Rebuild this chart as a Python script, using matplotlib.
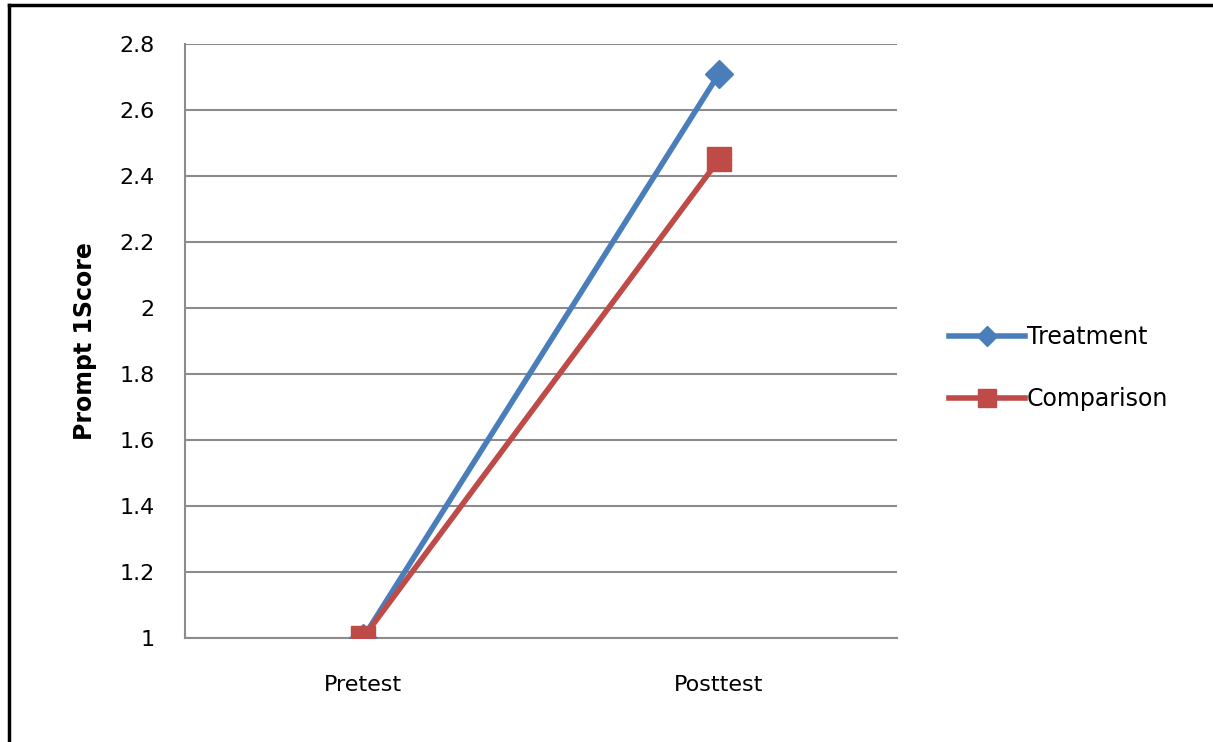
import matplotlib
matplotlib.use('Agg')
from matplotlib import pyplot as plt
from matplotlib.lines import Line2D

# data
categories = ["Pretest", "Posttest"]
treatment = [1.0, 2.71]
comparison = [1.0, 2.45]
yticks = [1, 1.2, 1.4, 1.6, 1.8, 2, 2.2, 2.4, 2.6, 2.8]
ytick_labels = ["1", "1.2", "1.4", "1.6", "1.8", "2", "2.2", "2.4", "2.6", "2.8"]

fig = plt.figure(figsize=(12.13, 7.42), dpi=100)
ax = fig.add_axes([0.1525, 0.1402, 0.587, 0.8005])

xpos = [0.5, 1.5]
ax.plot(xpos, treatment, "-", color="#4a7ebb", linewidth=4, marker="D",
        markersize=14, label="Treatment", zorder=3)
ax.plot(xpos, comparison, "-", color="#be4b48", linewidth=4, marker="s",
        markersize=17, label="Comparison", zorder=4)

ax.set_xlim(0, 2)
ax.set_ylim(1, 2.8)
ax.set_yticks(yticks)
ax.set_yticklabels(ytick_labels)
ax.set_xticks(xpos)
ax.set_xticklabels(categories)
ax.tick_params(length=0, labelsize=16)
ax.tick_params(axis='y', pad=22)
ax.tick_params(axis='x', pad=27)

ax.grid(axis='y', color="#8c8c8c", linewidth=1.5)
ax.set_axisbelow(True)
for s in ["top", "right"]:
    ax.spines[s].set_visible(False)
for s in ["left", "bottom"]:
    ax.spines[s].set_color("#8c8c8c")
    ax.spines[s].set_linewidth(1.5)

ax.set_ylabel("Prompt 1Score", fontsize=17, fontweight="bold")
ax.yaxis.set_label_coords(-0.124, 0.5)

handles = [Line2D([], [], color="#4a7ebb", linewidth=4, marker="D", markersize=10),
           Line2D([], [], color="#be4b48", linewidth=4, marker="s", markersize=13)]
fig.legend(handles, ["Treatment", "Comparison"], loc="upper left",
           bbox_to_anchor=(0.765, 0.59), frameon=False, fontsize=17,
           handlelength=3.2, handletextpad=0.1, labelspacing=1.6)

# outer frame (left and top visible)
fig.add_artist(Line2D([0.0075, 0.0075], [0, 0.993], color="black", linewidth=2.5,
                      transform=fig.transFigure))
fig.add_artist(Line2D([0.0075, 1.0], [0.993, 0.993], color="black", linewidth=2.5,
                      transform=fig.transFigure))

plt.savefig("out.png", dpi=100)
